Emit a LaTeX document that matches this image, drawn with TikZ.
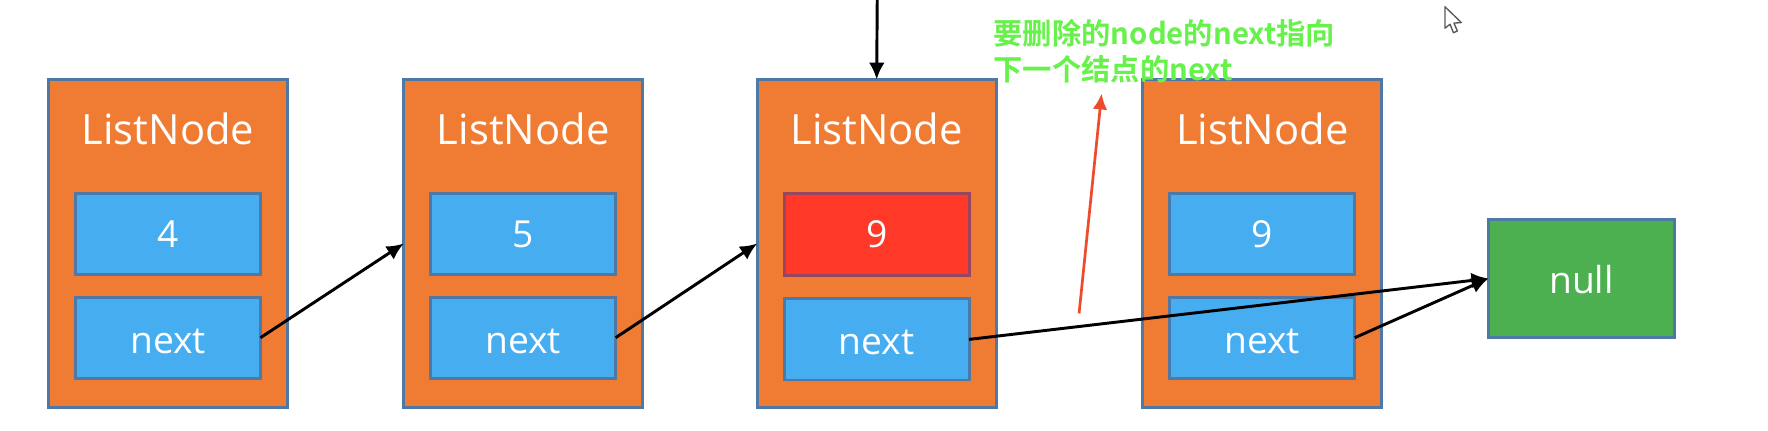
\documentclass[tikz,border=0pt]{standalone}
\usepackage{fontspec}
\setmainfont{Open Sans}
\newfontfamily\cjk{Noto Sans CJK SC}[BoldFont={Noto Sans CJK SC Bold}]
\usetikzlibrary{arrows.meta}
\definecolor{orangeb}{HTML}{F07C33}
\definecolor{blueb}{HTML}{46ADF0}
\definecolor{edgeb}{HTML}{4E78A5}
\definecolor{redb}{HTML}{FF3827}
\definecolor{rededge}{HTML}{96465F}
\definecolor{greenb}{HTML}{4CAF50}
\definecolor{lime}{HTML}{66F24A}
\definecolor{redarrow}{HTML}{EE4A2C}
\tikzset{
 outerbox/.style={draw=edgeb,line width=2.6pt,fill=orangeb,minimum width=212pt,minimum height=291pt,inner sep=0pt,outer sep=0pt},
 innerbox/.style={draw=edgeb,line width=2.6pt,fill=blueb,minimum width=164pt,minimum height=72pt,inner sep=0pt,outer sep=0pt,text=white,font=\fontsize{33}{33}\selectfont},
 redbox/.style={innerbox,fill=redb,draw=rededge},
 nullbox/.style={draw=edgeb,line width=2.6pt,fill=greenb,minimum width=165pt,minimum height=105pt,inner sep=0pt,outer sep=0pt,text=white,font=\fontsize{33}{33}\selectfont},
 title/.style={text=white,inner sep=0pt,font=\fontsize{37}{37}\selectfont},
 link/.style={draw=black,line width=2.6pt,-{Latex[length=15pt,width=14pt]}},
 note/.style={text=lime,inner sep=0pt,anchor=base west,font=\cjk\bfseries\fontsize{26}{26}\selectfont},
}
\newcommand{\listnode}[5]{%
 \node[outerbox] (#1) at (#2,216) {};
 \node[title] (#1t) at (#2,114.5) {ListNode};
 \node[#4] (#1v) at (#2,#3) {#5};
}
\newcommand{\nexttext}{\raisebox{-3pt}[\height][\depth]{next}}
\begin{document}
\begin{tikzpicture}[x=1pt,y=-1pt]
\useasboundingbox (0,0) rectangle (1568,381.4);
\fill[white] (0,0) rectangle (1568,381.4);
\listnode{a}{149}{207.5}{innerbox}{4}
\listnode{b}{464}{207.5}{innerbox}{5}
\listnode{c}{777.5}{208}{redbox}{9}
\listnode{d}{1119.5}{207.5}{innerbox}{9}
\node[innerbox] (an) at (149,299.5) {\nexttext};
\node[innerbox] (bn) at (464,299.5) {\nexttext};
\node[innerbox] (cn) at (777.5,301) {\nexttext};
\node[innerbox] (dn) at (1119.5,299.5) {\nexttext};
\node[nullbox] (nul) at (1402.5,247) {\raisebox{-1pt}[\height][\depth]{null}};
\draw[link] (an.east) -- (b.west);
\draw[link] (bn.east) -- (c.west);
\draw[link] (cn.east) -- (nul.west);
\draw[link] (dn.east) -- (nul.west);
\coordinate (topin) at (778,0);
\draw[link] (topin) -- (c.north);
\coordinate (rs) at (957,278);
\coordinate (re) at (977,83);
\draw[draw=redarrow,line width=2.4pt,-{Latex[length=14pt,width=13pt]}] (rs) -- (re);
\node[note] (n1) at (881,39.5) {要删除的node的next指向};
\node[note] (n2) at (881,71) {下一个结点的next};
\draw[black!65,line width=1.2pt,fill=white,line join=round]
 (1281.5,6) -- (1281.5,25) -- (1286,21.5) -- (1289,29) -- (1292.5,27.5) -- (1289.5,20.5) -- (1296,20) -- cycle;
\end{tikzpicture}
\end{document}
